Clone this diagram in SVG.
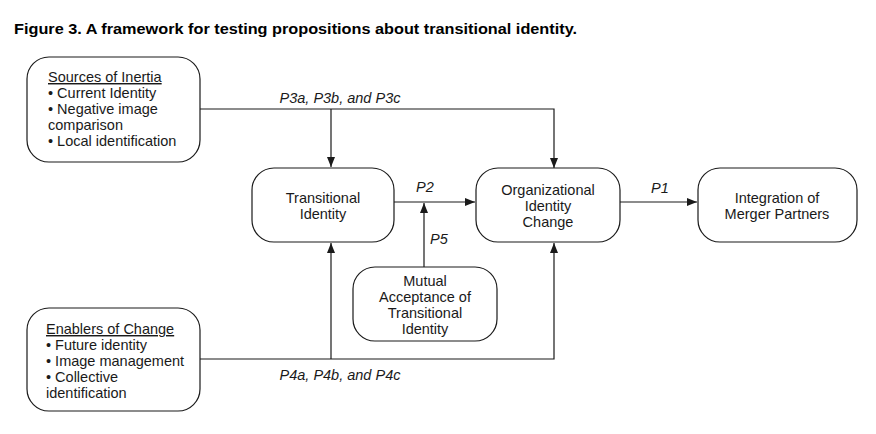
<svg xmlns="http://www.w3.org/2000/svg" width="876" height="434" viewBox="0 0 876 434">
<defs>
<marker id="ah" markerWidth="10" markerHeight="8" refX="10" refY="4" orient="auto" markerUnits="userSpaceOnUse">
<path d="M0,0 L10,4 L0,8 Z" fill="#1a1a1a"/>
</marker>
<style>
.box{fill:#fff;stroke:#1a1a1a;stroke-width:1.2}
.t{font-family:"Liberation Sans",Arial,sans-serif;font-size:14.5px;fill:#1a1a1a}
.c{text-anchor:middle}
.i{font-style:italic}
.ln{fill:none;stroke:#1a1a1a;stroke-width:1.2}
</style>
</defs>
<rect width="876" height="434" fill="#fff"/>
<text x="14" y="34" font-family="'Liberation Sans',Arial,sans-serif" font-size="15" font-weight="bold" fill="#000" textLength="563" lengthAdjust="spacingAndGlyphs">Figure 3. A framework for testing propositions about transitional identity.</text>

<g id="connectors">
<path class="ln" d="M200,109 H554 V168" marker-end="url(#ah)"/>
<path class="ln" d="M331,109 V167" marker-end="url(#ah)"/>
<path class="ln" d="M200,359 H554 V243" marker-end="url(#ah)"/>
<path class="ln" d="M331,359 V243" marker-end="url(#ah)"/>
<path class="ln" d="M394,202 H475" marker-end="url(#ah)"/>
<path class="ln" d="M424,267 V203" marker-end="url(#ah)"/>
<path class="ln" d="M620,202 H697" marker-end="url(#ah)"/>
<text class="t i c" x="340" y="103">P3a, P3b, and P3c</text>
<text class="t i c" x="340" y="380">P4a, P4b, and P4c</text>
<text class="t i" x="416" y="192">P2</text>
<text class="t i" x="430" y="244">P5</text>
<text class="t i" x="651" y="193">P1</text>
</g>

<g id="sources">
<rect class="box" x="27" y="57" width="173" height="105" rx="22"/>
<text class="t" x="48" y="82" text-decoration="underline">Sources of Inertia</text>
<text class="t" x="48" y="98">• Current Identity</text>
<text class="t" x="48" y="114">• Negative image</text>
<text class="t" x="48" y="130">comparison</text>
<text class="t" x="48" y="146">• Local identification</text>
</g>

<g id="enablers">
<rect class="box" x="27" y="308" width="173" height="103" rx="22"/>
<text class="t" x="46" y="334" text-decoration="underline">Enablers of Change</text>
<text class="t" x="46" y="350">• Future identity</text>
<text class="t" x="46" y="366">• Image management</text>
<text class="t" x="46" y="382">• Collective</text>
<text class="t" x="46" y="398">identification</text>
</g>

<g id="transitional">
<rect class="box" x="252" y="168" width="142" height="74" rx="22"/>
<text class="t c" x="323" y="203">Transitional</text>
<text class="t c" x="323" y="219">Identity</text>
</g>

<g id="oic">
<rect class="box" x="476" y="168" width="144" height="74" rx="22"/>
<text class="t c" x="548" y="195">Organizational</text>
<text class="t c" x="548" y="211">Identity</text>
<text class="t c" x="548" y="227">Change</text>
</g>

<g id="integration">
<rect class="box" x="698" y="168" width="159" height="74" rx="22"/>
<text class="t c" x="777" y="203">Integration of</text>
<text class="t c" x="777" y="219">Merger Partners</text>
</g>

<g id="mutual">
<rect class="box" x="353" y="267" width="144" height="74" rx="22"/>
<text class="t c" x="425" y="286">Mutual</text>
<text class="t c" x="425" y="302">Acceptance of</text>
<text class="t c" x="425" y="318">Transitional</text>
<text class="t c" x="425" y="334">Identity</text>
</g>
</svg>
